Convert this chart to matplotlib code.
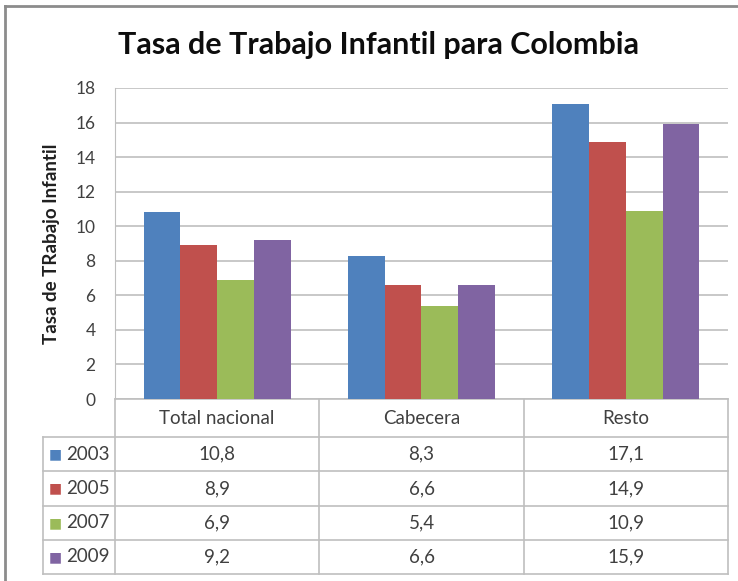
import matplotlib.pyplot as plt
import numpy as np

categories = ['Total nacional', 'Cabecera', 'Resto']
years = ['2003', '2005', '2007', '2009']
v2003 = [10.8, 8.3, 17.1]
v2005 = [8.9, 6.6, 14.9]
v2007 = [6.9, 5.4, 10.9]
v2009 = [9.2, 6.6, 15.9]
series = [v2003, v2005, v2007, v2009]
colors = ['#4F81BD', '#C0504D', '#9BBB59', '#8064A2']

plt.rcParams['font.family'] = ['Lato', 'DejaVu Sans']
W, H = 738, 581
fig = plt.figure(figsize=(W / 100, H / 100), dpi=100)

# plot area in pixel terms
left, right, top, bottom = 115, 728, 88, 399
ax = fig.add_axes([left / W, 1 - bottom / H, (right - left) / W, (bottom - top) / H])

x = np.arange(len(categories))
bw = 0.18
for i, (vals, c) in enumerate(zip(series, colors)):
    ax.bar(x + (i - 1.5) * bw, vals, width=bw, color=c, zorder=3)

ax.set_xlim(-0.5, 2.5)
ax.set_ylim(0, 18)
ax.set_yticks(range(0, 19, 2))
ax.set_xticks([])
ax.grid(axis='y', color='#C4C4C4', linewidth=1.3, zorder=0)
for s in ['top', 'right', 'bottom']:
    ax.spines[s].set_visible(False)
ax.spines['left'].set_color('#BFBFBF')
ax.tick_params(axis='y', length=0, pad=14, labelsize=12.5, labelcolor='#404040')
ax.set_ylabel('Tasa de TRabajo Infantil', fontsize=13.5, fontweight='bold',
              color='#202020', labelpad=11)

# data table under the plot, in axes fraction units
ph = bottom - top
def fy(py):
    return (bottom - py) / ph
def fx(px):
    return (px - left) / (right - left)
tl = fx(43)
rows_y = [399, 437, 471, 506, 540, 574]
line_kw = dict(color='#BFBFBF', linewidth=1.2, transform=ax.transAxes, clip_on=False)
ax.plot([0, 1], [fy(399)] * 2, **line_kw)
for py in rows_y[1:]:
    ax.plot([tl, 1], [fy(py)] * 2, **line_kw)
for xf in [0, 1 / 3, 2 / 3, 1]:
    ax.plot([xf, xf], [fy(399), fy(574)], **line_kw)
ax.plot([tl, tl], [fy(437), fy(574)], **line_kw)

txt_kw = dict(transform=ax.transAxes, fontsize=13.5, color='#404040',
              ha='center', va='center')
for j, cat in enumerate(categories):
    ax.text((j + 0.5) / 3, fy((399 + 437) / 2), cat, **txt_kw)
for i, (yr, vals, c) in enumerate(zip(years, series, colors)):
    yc = fy((rows_y[i + 1] + rows_y[i + 2]) / 2)
    ax.text(fx(49), yc, '■', transform=ax.transAxes,
            fontsize=10, color=c, ha='left', va='center',
            family=['DejaVu Sans'])
    ax.text(fx(66), yc, yr, transform=ax.transAxes,
            fontsize=13.5, color='#404040', ha='left', va='center')
    for j, v in enumerate(vals):
        ax.text((j + 0.5) / 3, yc, f'{v:.1f}'.replace('.', ','), **txt_kw)

fig.text(378 / W, 1 - 45 / H, 'Tasa de Trabajo Infantil para Colombia',
         ha='center', va='center', fontsize=22, fontweight='bold', color='#0D0D0D')

# outer frame lines (left and top)
fig.add_artist(plt.Line2D([5 / W, 5 / W], [0, 1 - 6 / H], color='#8C8C8C', linewidth=2,
                          transform=fig.transFigure))
fig.add_artist(plt.Line2D([5 / W, 1], [1 - 6 / H, 1 - 6 / H], color='#8C8C8C', linewidth=2,
                          transform=fig.transFigure))

fig.savefig('out.png', dpi=100)
